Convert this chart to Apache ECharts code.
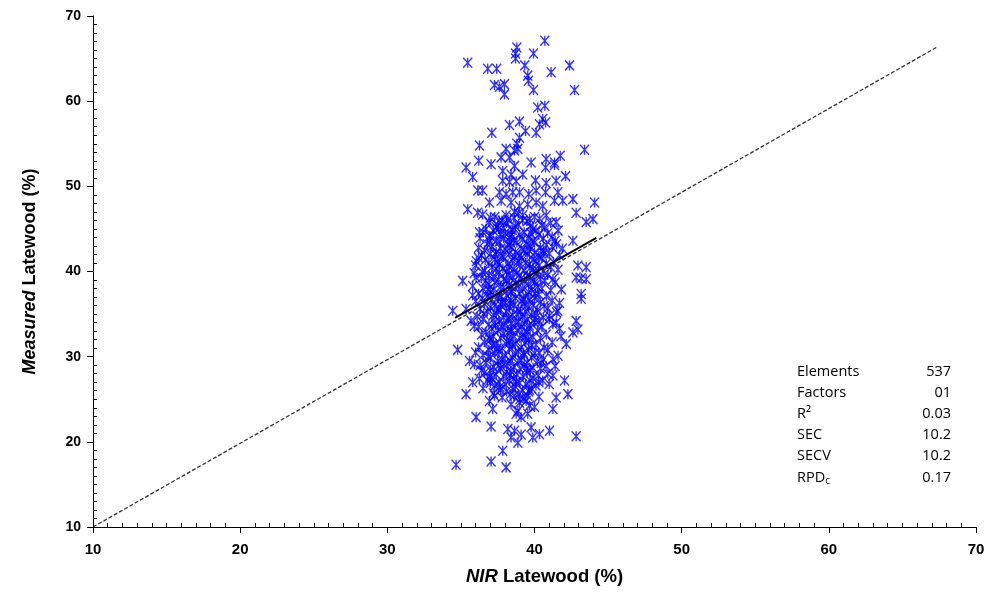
<!DOCTYPE html>
<html>
  <head>
    <meta charset="utf-8" />
    <title>NIR Latewood</title>
    <script src="https://cdn.jsdelivr.net/npm/echarts@6/dist/echarts.min.js"></script>
    <style>
      html, body { margin: 0; padding: 0; background: #fff; }
    </style>
  </head>
  <body>
    <div id="main" style="width: 993px;height: 596px;"></div>
    <script type="text/javascript">
      // points, [NIR, measured]
      var upperPoints = [
        [40.70, 67.1], [38.80, 66.3], [38.71, 65.6], [39.93, 65.6], [38.71, 65.0], [35.46, 64.5],
        [42.38, 64.2], [36.82, 63.8], [37.43, 63.8], [39.34, 64.2], [41.13, 63.4], [39.54, 63.0],
        [39.59, 62.4], [37.28, 61.9], [37.62, 61.7], [37.96, 62.0], [37.96, 60.8], [39.93, 61.3],
        [42.72, 61.3], [40.70, 59.45], [40.22, 59.25], [40.56, 57.9], [40.75, 57.5], [40.34, 57.3],
        [38.30, 57.2], [38.98, 57.6], [39.39, 56.5], [40.11, 56.3], [37.10, 56.3], [38.98, 55.7],
        [38.80, 55.0], [38.87, 54.4], [38.64, 54.2], [36.26, 54.8], [43.40, 54.3], [38.07, 54.4],
        [37.73, 53.4], [38.30, 53.4], [36.21, 53.0], [37.05, 52.6], [39.77, 52.8], [40.79, 53.2],
        [41.36, 52.8], [41.75, 53.6], [40.75, 52.2], [41.36, 52.5], [35.35, 52.2], [35.80, 51.1],
        [37.84, 51.8], [38.64, 52.4], [38.41, 51.4], [37.84, 50.65], [39.20, 51.4], [40.07, 50.7],
        [41.47, 50.65], [42.11, 51.2], [38.30, 50.5], [38.75, 50.6], [40.79, 50.4]
      ];
      var middlePoints = [
        [36.14, 49.5], [36.48, 49.5], [37.62, 49.3], [38.07, 49.1], [38.52, 49.3], [38.98, 49.3],
        [39.61, 49.1], [40.11, 49.5], [40.75, 49.3], [41.59, 49.3], [42.61, 48.5], [44.08, 48.1],
        [36.94, 48.1], [37.73, 48.3], [38.41, 48.1], [38.98, 47.7], [39.54, 47.9], [40.11, 48.1],
        [40.56, 47.7], [41.36, 48.3], [41.92, 48.3], [35.46, 47.3], [36.14, 46.9], [36.48, 46.7],
        [42.83, 46.9], [43.51, 45.8], [43.97, 46.15], [37.62, 46.0], [38.07, 46.6], [38.64, 47.0],
        [39.20, 46.6], [39.66, 46.2], [40.34, 46.2], [40.79, 46.6], [41.47, 45.8], [36.26, 44.6],
        [36.94, 44.2], [42.61, 43.6], [42.95, 40.7], [43.51, 40.5], [42.83, 39.3], [43.17, 39.2],
        [43.51, 39.1], [43.17, 37.35], [43.17, 36.8], [35.12, 38.9], [36.03, 39.3], [41.25, 39.1],
        [41.82, 37.9], [34.44, 35.4], [35.69, 34.2], [35.35, 35.6], [41.59, 35.4], [41.02, 34.8],
        [41.47, 34.0], [42.83, 34.2], [42.95, 33.2], [41.25, 33.8]
      ];
      var lowerPoints = [
        [42.61, 32.85], [42.16, 31.5], [34.78, 30.8], [35.58, 29.5], [35.92, 29.1], [41.25, 29.7],
        [40.79, 28.9], [42.04, 27.2], [41.25, 27.8], [40.56, 27.2], [35.35, 25.6], [35.80, 27.0],
        [36.26, 27.4], [41.47, 25.2], [42.27, 25.6], [36.94, 24.8], [37.28, 25.4], [38.41, 24.4],
        [38.98, 24.6], [39.54, 25.4], [39.43, 24.8], [39.66, 24.25], [41.25, 23.85], [37.16, 23.85],
        [38.87, 23.65], [40.00, 24.1], [36.03, 22.9], [38.75, 23.3], [39.09, 22.9], [39.54, 23.3],
        [37.05, 21.8], [38.19, 21.5], [38.64, 21.3], [39.09, 20.85], [39.77, 21.7], [40.34, 20.9],
        [41.02, 21.3], [39.88, 20.5], [38.41, 20.5], [38.87, 19.9], [42.83, 20.65], [37.84, 18.95],
        [37.05, 17.7], [38.07, 17.0], [34.67, 17.3]
      ];
      // dense core of the cloud (estimated, the marks overlap too much to read one by one)
      var corePoints = [
        [37.3, 46.4], [37.8, 46.0], [38.6, 46.3], [39.2, 46.0], [40.0, 46.4], [38.2, 46.1],
        [36.9, 45.8], [37.5, 45.4], [38.1, 45.7], [38.9, 45.5], [39.5, 45.9], [40.5, 45.4], [41.1, 45.7],
        [36.7, 45.0], [37.4, 45.2], [38.4, 44.9], [38.7, 45.3], [39.9, 45.0], [40.7, 45.2], [37.9, 45.1],
        [36.5, 44.6], [37.2, 44.8], [38.0, 44.5], [38.5, 44.9], [39.3, 44.6], [40.1, 44.8], [40.9, 44.5], [41.6, 44.8],
        [37.0, 44.1], [37.7, 44.4], [38.3, 44.0], [39.0, 44.3], [39.6, 44.0], [40.3, 44.3], [41.2, 44.1],
        [36.3, 43.9], [37.4, 43.6], [37.9, 43.9], [38.6, 43.7], [39.2, 43.8], [39.9, 43.6], [40.6, 43.9], [41.4, 43.6],
        [36.8, 43.2], [37.6, 43.5], [38.2, 43.1], [38.8, 43.4], [39.5, 43.2], [40.0, 43.4], [40.8, 43.1],
        [36.2, 42.8], [37.1, 43.0], [37.7, 42.7], [38.4, 42.9], [39.1, 42.7], [39.7, 43.0], [40.4, 42.8], [41.2, 42.9], [41.9, 42.7],
        [36.6, 42.5], [37.4, 42.3], [38.0, 42.6], [38.7, 42.3], [39.3, 42.5], [40.0, 42.2], [40.6, 42.5],
        [36.4, 41.9], [37.0, 42.1], [37.8, 41.8], [38.3, 42.1], [39.0, 41.9], [39.5, 42.0], [40.3, 41.8], [41.0, 42.1], [41.7, 41.9],
        [36.2, 41.6], [37.3, 41.4], [37.9, 41.7], [38.5, 41.3], [39.1, 41.6], [39.9, 41.4], [40.5, 41.6],
        [36.9, 41.0], [37.5, 41.2], [38.2, 40.9], [38.9, 41.2], [39.4, 41.0], [40.1, 41.2], [40.8, 40.9], [41.3, 41.1],
        [36.0, 40.7], [37.1, 40.5], [37.6, 40.8], [38.3, 40.5], [39.0, 40.7], [39.7, 40.4], [40.3, 40.7], [41.1, 40.5],
        [36.6, 40.1], [37.4, 40.3], [38.1, 40.0], [38.6, 40.3], [39.3, 40.1], [39.9, 40.3], [40.6, 40.0],
        [35.9, 39.8], [36.9, 39.6], [37.6, 39.9], [38.2, 39.6], [38.8, 39.8], [39.5, 39.5], [40.1, 39.8], [40.9, 39.6],
        [36.4, 39.2], [37.2, 39.4], [37.9, 39.1], [38.5, 39.4], [39.1, 39.2], [39.7, 39.4], [40.4, 39.1],
        [36.7, 38.9], [37.3, 38.7], [38.1, 38.9], [38.7, 38.6], [39.3, 38.9], [40.0, 38.7], [40.7, 38.9], [41.4, 38.7],
        [35.8, 38.3], [36.9, 38.5], [37.7, 38.2], [38.3, 38.5], [38.9, 38.3], [39.6, 38.5], [40.2, 38.2],
        [36.5, 38.0], [37.2, 37.8], [37.9, 38.1], [38.5, 37.7], [39.2, 38.0], [39.8, 37.8], [40.5, 38.0], [41.1, 37.8],
        [36.2, 37.4], [37.0, 37.6], [37.6, 37.3], [38.4, 37.6], [39.0, 37.4], [39.6, 37.6], [40.3, 37.3],
        [36.8, 37.1], [37.5, 36.9], [38.1, 37.2], [38.7, 36.9], [39.4, 37.1], [40.0, 36.9], [40.8, 37.1],
        [36.0, 36.5], [37.1, 36.7], [37.8, 36.4], [38.4, 36.7], [39.1, 36.5], [39.7, 36.7], [40.4, 36.4], [41.2, 36.6],
        [36.6, 36.2], [37.3, 36.0], [38.0, 36.3], [38.6, 36.0], [39.3, 36.2], [39.9, 36.0], [37.7, 36.1],
        [36.3, 35.6], [37.0, 35.8], [37.7, 35.5], [38.3, 35.8], [38.9, 35.6], [39.6, 35.8], [40.2, 35.5], [40.9, 35.7],
        [36.8, 35.3], [37.4, 35.1], [38.1, 35.3], [38.8, 35.0], [39.4, 35.3], [40.1, 35.1], [41.5, 35.2],
        [36.1, 34.7], [37.2, 34.9], [37.9, 34.6], [38.5, 34.9], [39.2, 34.7], [39.8, 34.9], [40.6, 34.6],
        [36.5, 34.4], [37.6, 34.2], [38.2, 34.4], [38.9, 34.1], [39.5, 34.4], [40.3, 34.2], [41.0, 34.4],
        [36.9, 33.8], [37.3, 34.0], [38.0, 33.7], [38.7, 34.0], [39.3, 33.8], [40.0, 34.0], [38.4, 33.9],
        [36.2, 33.5], [37.1, 33.3], [37.8, 33.5], [38.4, 33.2], [39.1, 33.5], [39.7, 33.3], [40.5, 33.5], [41.7, 33.3],
        [36.7, 32.9], [37.5, 33.1], [38.2, 32.8], [38.8, 33.1], [39.5, 32.9], [40.2, 33.1],
        [36.4, 32.6], [37.2, 32.4], [37.9, 32.7], [38.6, 32.4], [39.2, 32.6], [39.9, 32.3], [40.8, 32.6],
        [37.0, 32.0], [37.7, 32.2], [38.3, 31.9], [39.0, 32.2], [39.6, 32.0], [40.4, 32.2],
        [36.6, 31.7], [37.4, 31.5], [38.1, 31.8], [38.7, 31.5], [39.4, 31.7], [40.1, 31.4], [41.2, 31.7],
        [36.2, 31.1], [37.1, 31.3], [37.8, 31.0], [38.5, 31.3], [39.1, 31.1], [39.8, 31.3],
        [36.9, 30.8], [37.6, 30.6], [38.3, 30.9], [38.9, 30.6], [39.6, 30.8], [40.3, 30.5], [40.9, 30.8],
        [36.5, 30.2], [37.3, 30.4], [38.0, 30.1], [38.7, 30.4], [39.3, 30.2], [40.0, 30.4],
        [37.0, 29.9], [37.8, 29.7], [38.5, 29.9], [39.1, 29.6], [39.8, 29.9], [40.6, 29.7],
        [36.7, 29.3], [37.5, 29.5], [38.2, 29.2], [38.9, 29.5], [39.5, 29.3], [40.2, 29.5],
        [36.3, 29.0], [37.2, 28.8], [37.9, 29.1], [38.6, 28.8], [39.3, 29.0], [39.9, 28.7], [41.4, 28.9],
        [37.0, 28.4], [37.7, 28.6], [38.4, 28.3], [39.0, 28.6], [39.7, 28.4], [40.4, 28.6],
        [36.6, 28.1], [37.4, 27.9], [38.1, 28.2], [38.8, 27.9], [39.5, 28.1], [40.9, 28.0],
        [37.1, 27.5], [37.9, 27.7], [38.6, 27.4], [39.2, 27.7], [39.9, 27.5],
        [36.8, 27.2], [37.6, 27.0], [38.3, 27.2], [39.0, 26.9], [39.7, 27.2], [40.3, 27.0],
        [37.3, 26.6], [38.0, 26.8], [38.7, 26.5], [39.4, 26.8], [40.1, 26.6], [41.0, 26.8],
        [36.5, 26.3], [37.7, 26.1], [38.5, 26.3], [39.2, 26.0], [39.8, 26.3],
        [37.2, 25.7], [38.1, 25.9], [38.9, 25.6], [39.6, 25.9],
        [37.8, 25.2], [38.6, 25.4], [39.3, 25.1], [40.3, 25.3]
      ];
      // more marks sitting in the gaps of the core
      var coreGapPoints = [
        [37.55, 45.0], [38.45, 44.3], [39.75, 44.5], [36.95, 43.55], [38.35, 43.45], [39.65, 42.45],
        [37.35, 42.05], [40.65, 42.15], [38.65, 41.75], [36.65, 41.35], [39.65, 40.85], [37.85, 40.35],
        [40.25, 40.05], [36.45, 39.95], [38.95, 39.55], [37.55, 39.05], [39.95, 38.95], [38.45, 38.25],
        [36.85, 37.9], [40.05, 37.45], [37.75, 37.05], [39.25, 36.75], [36.45, 36.85], [38.35, 36.25],
        [40.65, 35.95], [37.55, 35.55], [39.05, 35.25], [36.55, 35.05], [38.25, 34.55], [40.0, 34.45],
        [37.35, 33.65], [39.65, 33.65], [38.45, 33.0], [36.95, 32.2], [39.35, 32.3], [38.25, 31.55],
        [40.65, 31.05], [37.45, 30.95], [39.25, 30.45], [36.85, 30.0], [38.35, 29.55], [40.45, 29.25],
        [37.55, 28.95], [39.45, 28.55], [38.35, 27.85], [36.95, 27.65], [40.25, 27.75], [38.75, 27.05],
        [37.65, 26.45], [39.65, 26.1], [38.35, 25.55], [39.0, 25.0], [37.0, 26.9], [38.9, 46.8],
        [39.7, 45.3], [37.0, 46.3], [41.5, 43.2], [36.05, 41.2], [41.6, 40.2], [35.8, 37.2],
        [41.7, 36.3], [35.9, 33.6], [41.8, 32.4], [36.0, 30.5], [41.6, 30.1], [36.4, 28.4]
      ];
      var oneToOne = [[10, 10], [67.3, 66.3]];
      var fitLine = [[34.6, 34.55], [44.2, 43.95]];
      var statLabels = ['Elements', 'Factors', 'R²', 'SEC', 'SECV', '{b|RPD}{s|c}'];
      var statValues = ['537', '01', '0.03', '10.2', '10.2', '0.17'];
      var axisTicks = [10, 20, 30, 40, 50, 60, 70];

      var allPoints = upperPoints.concat(middlePoints, corePoints, coreGapPoints, lowerPoints);

      var myChart = echarts.init(document.getElementById('main'));
      var statFont = '"Open Sans", sans-serif';
      var narrowFont = '"Liberation Sans Narrow", "Liberation Sans", sans-serif';
      var graphics = [];
      statLabels.forEach(function (label, i) {
        var y = 370 + i * 21.2;
        graphics.push({
          type: 'text', left: 797, top: y - 6,
          style: {
            text: label, font: '14.5px ' + statFont, fill: '#000',
            rich: {
              b: { font: '14.5px ' + statFont, fill: '#000' },
              s: { font: '10px ' + statFont, fill: '#000', verticalAlign: 'bottom', padding: [7, 0, 0, 0] }
            }
          }
        });
        graphics.push({
          type: 'text', right: 993 - 951, top: y - 6,
          style: { text: statValues[i], font: '14.5px ' + statFont, fill: '#000', align: 'right' }
        });
      });

      var axisBase = {
        min: axisTicks[0],
        max: axisTicks[axisTicks.length - 1],
        interval: 10,
        splitLine: { show: false },
        axisLine: { show: true, lineStyle: { color: '#000', width: 1 } },
        axisTick: { show: true, inside: false, length: 6, lineStyle: { color: '#000' } }
      };
      var minorBase = {
        min: axisTicks[0],
        max: axisTicks[axisTicks.length - 1],
        interval: 10,
        splitLine: { show: false },
        axisLine: { show: false },
        axisLabel: { show: false },
        axisTick: { show: false, inside: false },
        minorTick: { show: true, splitNumber: 10, length: -4, lineStyle: { color: '#000' } },
        minorSplitLine: { show: false }
      };

      var option = {
        animation: false,
        backgroundColor: '#fff',
        grid: { left: 93, right: 17, top: 16, bottom: 69, containLabel: false },
        xAxis: [
          Object.assign({}, axisBase, {
            type: 'value', position: 'bottom',
            name: '{i|NIR} Latewood (%)',
            nameLocation: 'middle', nameGap: 40,
            nameTextStyle: {
              fontFamily: narrowFont, fontSize: 18.5, fontWeight: 'bold', color: '#000',
              padding: [0, 0, 0, 20],
              rich: { i: { fontFamily: narrowFont, fontSize: 18.5, fontWeight: 'bold', fontStyle: 'italic', color: '#000' } }
            },
            axisLabel: { margin: 15, color: '#000', fontSize: 15, fontWeight: 'bold', fontFamily: narrowFont }
          }),
          Object.assign({}, minorBase, { type: 'value', position: 'bottom' })
        ],
        yAxis: [
          Object.assign({}, axisBase, {
            type: 'value', position: 'left',
            name: '{i|Measured} Latewood (%)',
            nameLocation: 'middle', nameGap: 54, nameRotate: 90,
            nameTextStyle: {
              fontFamily: '"Liberation Sans", Arial, sans-serif',
              fontSize: 18, fontWeight: 'bold', color: '#000',
              rich: { i: { fontFamily: '"Liberation Sans", Arial, sans-serif', fontSize: 18, fontWeight: 'bold', fontStyle: 'italic', color: '#000' } }
            },
            axisLabel: { margin: 12, color: '#000', fontSize: 14, fontWeight: 'bold', fontFamily: '"Liberation Sans", Arial, sans-serif' }
          }),
          Object.assign({}, minorBase, { type: 'value', position: 'left' })
        ],
        graphic: graphics,
        series: [
          {
            type: 'scatter',
            data: allPoints,
            symbol: 'path://M0,0L8,9M8,0L0,9M4,0L4,9',
            symbolSize: [9, 10],
            silent: true,
            itemStyle: { color: 'rgba(0,0,0,0)', borderColor: '#0000ff', borderWidth: 1.4 },
            z: 2
          },
          {
            type: 'line',
            data: oneToOne,
            showSymbol: false,
            silent: true,
            lineStyle: { color: '#333', width: 1.3, type: [4, 2] },
            z: 3
          },
          {
            type: 'line',
            data: fitLine,
            showSymbol: false,
            silent: true,
            lineStyle: { color: '#000', width: 2 },
            z: 4
          }
        ]
      };
      myChart.setOption(option);
    </script>
  </body>
</html>
